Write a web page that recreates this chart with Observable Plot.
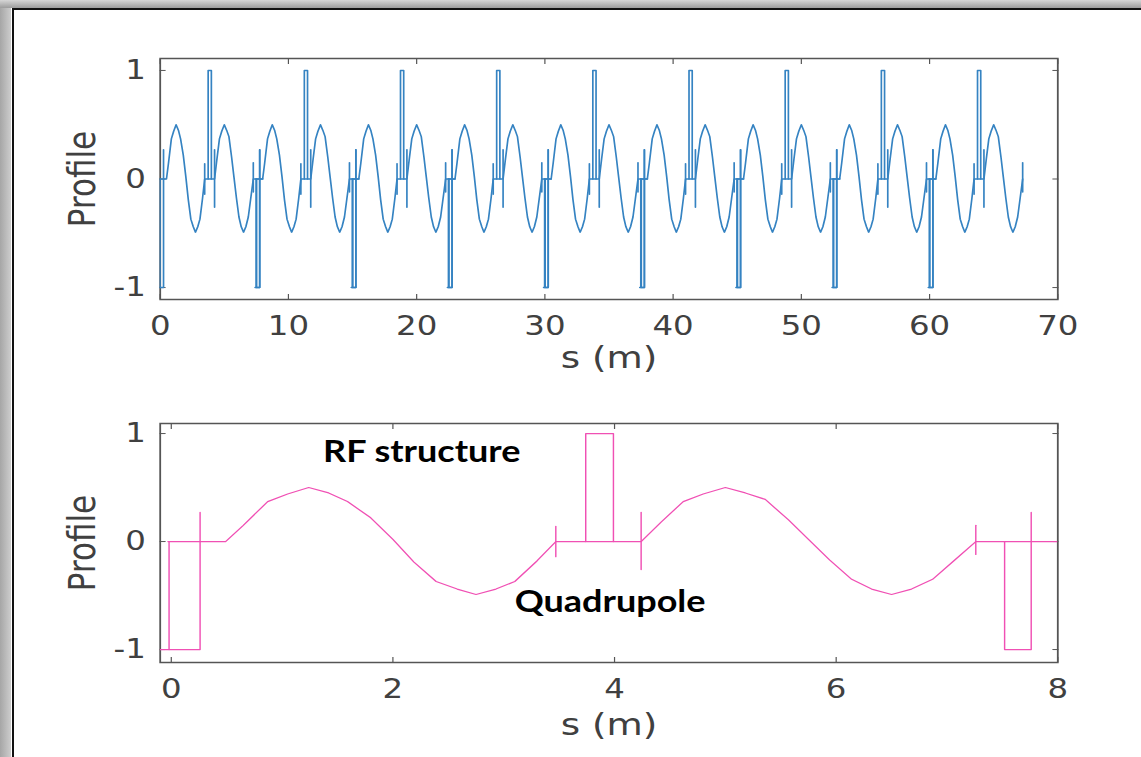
<!DOCTYPE html>
<html>
<head>
<meta charset="utf-8">
<script src="https://cdn.jsdelivr.net/npm/d3@7"></script>
<script src="https://cdn.jsdelivr.net/npm/@observablehq/plot@0.6"></script>
<style>
  html, body { margin: 0; padding: 0; background: #fff; }
  #page { position: relative; width: 1141px; height: 757px; overflow: hidden; background: #fff; }
  #leftbar { position: absolute; left: 0; top: 0; width: 11px; height: 757px; background: linear-gradient(to right, #a6a6a6, #cdcdcd); }
  #topbar { position: absolute; left: 0; top: 0; width: 1141px; height: 8px; background: linear-gradient(to bottom, #d6d6d6, #9c9c9c); }
  #leftline { position: absolute; left: 12px; top: 8px; width: 2px; height: 749px; background: #111; }
  #topline { position: absolute; left: 12px; top: 8px; width: 1129px; height: 2px; background: #111; }
  #stretch { position: absolute; left: 0; top: 0; width: 951px; height: 757px; transform: scaleX(1.2); transform-origin: 0 0; }
  #top, #bottom { position: absolute; left: 0; }
  #top { top: 0; }
  #bottom { top: 390px; }
</style>
</head>
<body>
<div id="page">
  <div id="leftbar"></div>
  <div id="topbar"></div>
  <div id="stretch">
    <div id="top"></div>
    <div id="bottom"></div>
  </div>
  <div id="leftline"></div>
  <div id="topline"></div>
</div>
<script>
// ---------- data ----------
// One lattice cell (bottom panel), as polyline segments: segment id, s (m), profile
const cellSeg = [
  0, 0, 0,                                  // defocusing quad at start (bottom edge + right edge)
  1, 1,                                     // left edge of first quad
  2, 2, 2, 2, 2, 2, 2, 2, 2, 2, 2, 2, 2, 2, 2, 2, 2, 2, 2,   // drift + RF structure 1 + drift
  2, 2, 2, 2, 2, 2, 2, 2, 2, 2, 2, 2, 2, 2, 2, 2, 2, 2,      // RF structure 2 + drift
  3, 3,                                     // marker at end of RF 1
  4, 4, 4, 4,                               // focusing quad
  5, 5,                                     // marker before RF 2
  6, 6,                                     // marker at end of RF 2
  7, 7, 7, 7                                // defocusing quad at end
];
const cellS = [
  -0.1, 0.26, 0.26,
  -0.02, -0.02,
  -0.03, 0.49, 0.65, 0.87, 1.05, 1.24, 1.42, 1.59, 1.80, 2.00, 2.19, 2.39, 2.58, 2.75, 2.93, 3.10, 3.30, 3.47, 4.24,
  4.42, 4.62, 4.80, 5.00, 5.18, 5.36, 5.57, 5.75, 5.94, 6.14, 6.32, 6.50, 6.68, 6.87, 7.06, 7.26, 7.50, 8.00,
  3.47, 3.47,
  3.74, 3.74, 3.99, 3.99,
  4.24, 4.24,
  7.26, 7.26,
  7.52, 7.52, 7.76, 7.76
];
const cellP = [
  -1, -1, 0.27,
  0, -1,
  0, 0, 0.15, 0.37, 0.44, 0.50, 0.45, 0.37, 0.22, 0.02, -0.19, -0.37, -0.44, -0.49, -0.44, -0.37, -0.18, 0, 0,
  0.18, 0.37, 0.44, 0.50, 0.45, 0.39, 0.20, 0.02, -0.17, -0.35, -0.44, -0.49, -0.44, -0.35, -0.18, 0, 0, 0,
  0.14, -0.14,
  0, 1, 1, 0,
  0.27, -0.26,
  0.15, -0.12,
  0, -1, -1, 0.27
];

// Top panel: the same cell repeated along the ring (cell start positions, m)
const cellStarts = [0, 7.5, 15, 22.5, 30, 37.5, 45, 52.5, 60];
const topEndS = 67.3;   // last drawn position in the top panel

const topXTicks = [0, 10, 20, 30, 40, 50, 60, 70];
const bottomXTicks = [0, 2, 4, 6, 8];
const yTicks = [-1, 0, 1];

const annotText = ["RF structure", "Quadrupole"];
const annotS = [2.26, 3.96];
const annotP = [0.83, -0.56];

// ---------- tables ----------
const bottomData = cellS.map((s, i) => ({seg: cellSeg[i], s, p: cellP[i]}));
const topData = [];
cellStarts.forEach((c, k) => {
  cellS.forEach((s, i) => {
    if (s + c <= topEndS) topData.push({seg: k * 10 + cellSeg[i], s: s + c, p: cellP[i]});
  });
});
const annots = annotText.map((t, i) => ({t, s: annotS[i], p: annotP[i]}));

const W = 951;
const fmt = d => String(d);
const frameColor = "#555";
const tickFont = 27;
const labelFont = 31;

function axes(xTicks, xLabelOffset) {
  return [
    Plot.frame({stroke: frameColor, strokeWidth: 1.5}),
    Plot.axisX(xTicks, {anchor: "bottom", tickSize: -5, text: null, label: null, stroke: frameColor}),
    Plot.axisX(xTicks, {anchor: "top", tickSize: -5, text: null, label: null, stroke: frameColor}),
    Plot.axisY(yTicks, {anchor: "left", tickSize: -5, text: null, label: null, stroke: frameColor}),
    Plot.axisY(yTicks, {anchor: "right", tickSize: -5, text: null, label: null, stroke: frameColor}),
    Plot.axisX(xTicks, {anchor: "bottom", tickSize: 0, tickPadding: 16, tickFormat: fmt, fontSize: tickFont, label: null}),
    Plot.axisY(yTicks, {anchor: "left", tickSize: 0, tickPadding: 12, tickFormat: fmt, fontSize: tickFont, label: null}),
    Plot.axisX(xTicks, {anchor: "bottom", tickSize: 0, text: null, label: "s (m)", labelArrow: "none", labelAnchor: "center", labelOffset: xLabelOffset, fontSize: labelFont}),
    Plot.axisY(yTicks, {anchor: "left", tickSize: 0, text: null, label: "Profile", labelArrow: "none", labelAnchor: "center", labelOffset: 76, fontSize: labelFont})
  ];
}

const style = {fontFamily: "DejaVu Sans", color: "#404040", background: "transparent", overflow: "visible"};

const topPlot = Plot.plot({
  width: W, height: 390,
  marginLeft: 133, marginRight: 70, marginTop: 58, marginBottom: 91,
  style,
  x: {domain: [0, 70]},
  y: {domain: [-1.11, 1.11]},
  marks: [
    ...axes(topXTicks, 68),
    Plot.line(topData, {x: "s", y: "p", z: "seg", stroke: "#3583c2", strokeWidth: 1.4, clip: true})
  ]
});

const bottomPlot = Plot.plot({
  width: W, height: 367,
  marginLeft: 133, marginRight: 70, marginTop: 33, marginBottom: 95,
  style,
  x: {domain: [-0.1, 8]},
  y: {domain: [-1.12, 1.093]},
  marks: [
    ...axes(bottomXTicks, 72),
    Plot.line(bottomData, {x: "s", y: "p", z: "seg", stroke: "#f050b4", strokeWidth: 1.2, clip: true}),
    Plot.text(annots, {x: "s", y: "p", text: "t", fontFamily: "Lato", fontWeight: 700, fontSize: 30, fill: "#000"})
  ]
});

document.getElementById("top").appendChild(topPlot);
document.getElementById("bottom").appendChild(bottomPlot);
</script>
</body>
</html>
